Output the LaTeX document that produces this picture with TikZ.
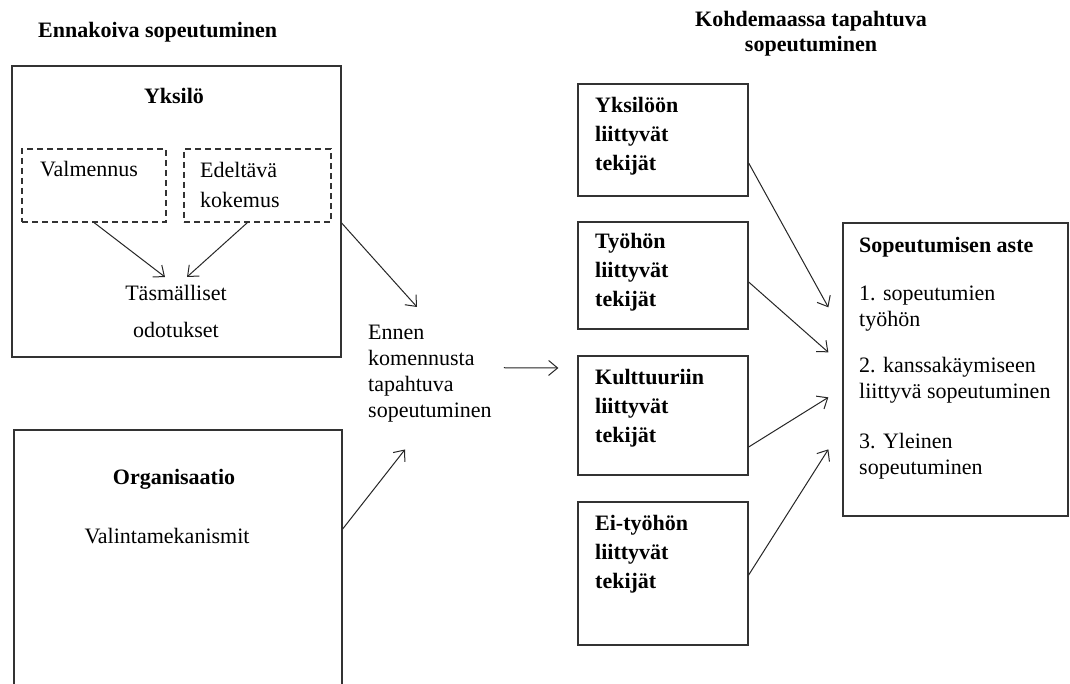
\documentclass[tikz,border=0pt]{standalone}
\usepackage{fontspec}
\setmainfont{Liberation Serif}
\usetikzlibrary{arrows.meta}

\begin{document}
\begin{tikzpicture}[x=1pt, y=-1pt,
    box/.style={draw=black!80, line width=1.3pt, inner sep=0pt},
    dbox/.style={box, line width=1.1pt, dash pattern=on 6pt off 4pt},
    txt/.style={inner sep=0pt, align=left, font=\fontsize{22}{#1}\selectfont},
    txt/.default=26,
    btxt/.style={inner sep=0pt, align=left, font=\fontsize{22}{#1}\selectfont\bfseries},
    btxt/.default=29,
    arr/.style={draw=black!85, line width=1pt, -{Straight Barb[length=9pt,width=15pt]}}]

    % Page frame (the lower box runs off the bottom)
    \useasboundingbox (0,0) rectangle (1070,684);
    \clip (0,0) rectangle (1070,684);
    \fill[white] (0,0) rectangle (1070,684);

    % Headings
    \node[btxt, anchor=north west] (antic) at (38,22) {Ennakoiva sopeutuminen};
    \node[btxt=25, align=center, anchor=north] (incntry) at (811,11) {Kohdemaassa tapahtuva\\sopeutuminen};

    % Individual
    \node[box, minimum width=329pt, minimum height=291pt] (indiv) at (176.5,211.5) {};
    \node[btxt, anchor=north] (indivlbl) at (174,88) {Yksilö};
    \node[dbox, minimum width=144pt, minimum height=73pt] (train) at (94,185.5) {};
    \node[txt, anchor=north west] (trainlbl) at (40,161) {Valmennus};
    \node[dbox, minimum width=147pt, minimum height=73pt] (prior) at (257.5,185.5) {};
    \node[txt=30, anchor=north west] (priorlbl) at (200,162) {Edeltävä\\kokemus};
    \node[txt=37, align=center, anchor=north] (expct) at (176,285) {Täsmälliset\\odotukset};
    \draw[arr] (train.south) -- ([xshift=-11pt,yshift=8pt]expct.north);
    \draw[arr] ([xshift=-10pt]prior.south) -- ([xshift=11pt,yshift=8pt]expct.north);

    % Organisation
    \node[box, minimum width=328pt, minimum height=290pt] (org) at (178,575) {};
    \node[btxt, anchor=north] (orglbl) at (174,469) {Organisaatio};
    \node[txt, anchor=north] (select) at (167,528) {Valintamekanismit};

    % Before the assignment
    \node[txt, anchor=north west] (pre) at (368,325) {Ennen\\komennusta\\tapahtuva\\sopeutuminen};
    \draw[arr] (indiv.-4) -- ([xshift=49pt,yshift=18pt]pre.north west);
    \draw[arr] ([yshift=46pt]org.east) -- ([xshift=37pt,yshift=-27pt]pre.south west);

    % Factors in the host country
    \node[box, minimum width=170pt, minimum height=112pt] (yks) at (663,140) {};
    \node[btxt, anchor=north west] (ykslbl) at (595,97) {Yksilöön\\liittyvät\\tekijät};
    \node[box, minimum width=170pt, minimum height=107pt] (tyo) at (663,275.5) {};
    \node[btxt, anchor=north west] (tyolbl) at (595,233) {Työhön\\liittyvät\\tekijät};
    \node[box, minimum width=170pt, minimum height=119pt] (kul) at (663,415.5) {};
    \node[btxt, anchor=north west] (kullbl) at (595,369) {Kulttuuriin\\liittyvät\\tekijät};
    \node[box, minimum width=170pt, minimum height=143pt] (eit) at (663,573.5) {};
    \node[btxt, anchor=north west] (eitlbl) at (595,515) {Ei-työhön\\liittyvät\\tekijät};
    \draw[arr] ([xshift=12pt,yshift=6pt]pre.east) -- ([xshift=-19pt,yshift=47.5pt]kul.west);

    % Degree of adjustment
    \node[box, minimum width=225pt, minimum height=293pt] (deg) at (955.5,369.5) {};
    \node[txt, anchor=north west] (deglbl) at (859,237) {\textbf{Sopeutumisen aste}\\[22pt]1. sopeutumien\\työhön\\[20pt]2. kanssakäymiseen\\liittyvä sopeutuminen\\[24pt]3. Yleinen\\sopeutuminen};
    \draw[arr] ([yshift=-23pt]yks.east) -- ([xshift=-14pt,yshift=-85pt]deg.north west);
    \draw[arr] ([yshift=-6.5pt]tyo.east) -- ([xshift=-14pt,yshift=-130pt]deg.north west);
    \draw[arr] ([yshift=-31.5pt]kul.east) -- ([xshift=-14pt,yshift=-175pt]deg.north west);
    \draw[arr] ([yshift=-1.5pt]eit.east) -- ([xshift=-14pt,yshift=-227pt]deg.north west);
\end{tikzpicture}
\end{document}
